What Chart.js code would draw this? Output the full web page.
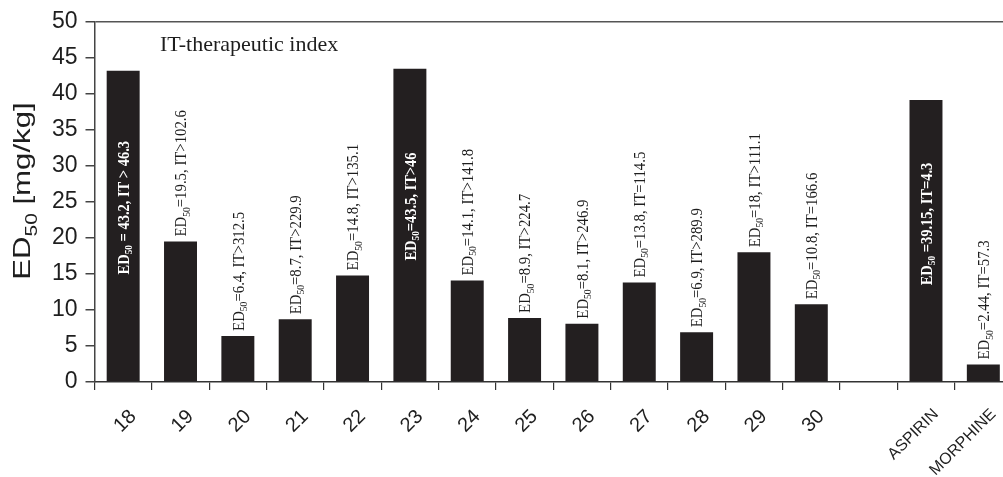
<!DOCTYPE html>
<html>
<head>
<meta charset="utf-8">
<script src="https://cdn.jsdelivr.net/npm/chart.js@4.4.1/dist/chart.umd.min.js"></script>
<style>
html,body{margin:0;padding:0;overflow:hidden;background:#fff;}
#wrap{position:relative;width:1012px;height:477px;}
</style>
</head>
<body>
<div id="wrap"><canvas id="c"></canvas></div>
<script>
// ---- data ----
const categories = ['18','19','20','21','22','23','24','25','26','27','28','29','30','','ASPIRIN','MORPHINE'];
const ed50Values = [43.2, 19.5, 6.4, 8.7, 14.8, 43.5, 14.1, 8.9, 8.1, 13.8, 6.9, 18, 10.8, null, 39.15, 2.44];
const labelTails = [
  ' = 43.2, IT > 46.3', '=19.5, IT>102.6', '=6.4, IT>312.5', '=8.7, IT>229.9',
  '=14.8, IT>135.1', '=43.5, IT>46', '=14.1, IT>141.8', '=8.9, IT>224.7',
  '=8.1, IT>246.9', '=13.8, IT=114.5', '=6.9, IT>289.9', '=18, IT>111.1',
  '=10.8, IT=166.6', '', ' =39.15, IT=4.3', '=2.44, IT=57.3'
];
const yTickValues = [0, 5, 10, 15, 20, 25, 30, 35, 40, 45, 50];
const noteText = 'IT-therapeutic index';

const SANS = '"Liberation Sans", Arial, Helvetica, sans-serif';
const SERIF = '"Liberation Serif", "Times New Roman", serif';
const INK = '#1e1e1e';

function drawSubText(ctx, x, y, parts, rotate, centered, scaleLen, color) {
  ctx.save();
  let total = 0;
  const widths = parts.map(p => { ctx.font = p.font; const w = ctx.measureText(p.text).width; total += w; return w; });
  ctx.translate(x, y);
  if (rotate) ctx.rotate(-Math.PI / 2);
  ctx.scale(scaleLen, 1);
  let cx = centered ? -total / 2 : 0;
  ctx.fillStyle = color;
  ctx.textAlign = 'left';
  ctx.textBaseline = 'alphabetic';
  parts.forEach((p, i) => { ctx.font = p.font; ctx.fillText(p.text, cx, p.dy); cx += widths[i]; });
  ctx.restore();
}

const annotate = {
  id: 'annotate',
  afterDatasetsDraw(chart) {
    const ctx = chart.ctx;
    const meta = chart.getDatasetMeta(0);
    const ys = chart.scales.y;
    meta.data.forEach((bar, i) => {
      const v = ed50Values[i];
      if (v === null || v === undefined) return;
      const inside = v > 30;
      const size = 17;
      const w = inside ? 'bold ' : '';
      const parts = [
        { text: 'ED', font: w + size + 'px ' + SERIF, dy: size * 0.34 },
        { text: '50', font: w + Math.round(size * 0.62) + 'px ' + SERIF, dy: size * 0.34 + size * 0.2 },
        { text: labelTails[i], font: w + size + 'px ' + SERIF, dy: size * 0.34 }
      ];
      if (inside) {
        drawSubText(ctx, bar.x, ys.getPixelForValue(v * 0.56), parts, true, true, 0.85, '#ffffff');
      } else {
        drawSubText(ctx, bar.x, bar.y - 5, parts, true, false, 0.87, INK);
      }
    });
    // note text
    ctx.save();
    ctx.font = '22px ' + SERIF;
    ctx.fillStyle = INK;
    ctx.textAlign = 'left';
    ctx.textBaseline = 'alphabetic';
    ctx.fillText(noteText, 160, 51);
    ctx.restore();
    // y axis title
    const ysz = 24;
    const yparts = [
      { text: 'ED', font: ysz + 'px ' + SANS, dy: 0 },
      { text: '50', font: Math.round(ysz * 0.68) + 'px ' + SANS, dy: ysz * 0.3 },
      { text: ' [mg/kg]', font: ysz + 'px ' + SANS, dy: 0 }
    ];
    drawSubText(ctx, 30, 191, yparts, true, true, 1.3, INK);
  }
};

new Chart(document.getElementById('c'), {
  type: 'bar',
  data: {
    labels: categories,
    datasets: [{
      data: ed50Values,
      backgroundColor: '#231f20',
      borderWidth: 0,
      barPercentage: 0.575,
      categoryPercentage: 1.0
    }]
  },
  options: {
    responsive: true,
    maintainAspectRatio: false,
    animation: false,
    devicePixelRatio: 1,
    layout: { padding: { top: 20, right: 0, bottom: 0, left: 0 } },
    plugins: { legend: { display: false }, tooltip: { enabled: false }, title: { display: false } },
    scales: {
      x: {
        offset: true,
        grid: { display: true, offset: true, drawOnChartArea: false, tickLength: 8, color: '#333', lineWidth: 1.2 },
        border: { display: true, color: '#333', width: 1.5 },
        ticks: {
          autoSkip: false,
          maxRotation: 45, minRotation: 45,
          padding: 15,
          labelOffset: 10,
          color: INK,
          font: (c) => ({ family: SANS, size: (c.index >= 14 ? 16 : 20) })
        },
        afterFit: (s) => { s.height = 95; }
      },
      y: {
        min: 0, max: 50,
        afterBuildTicks: (s) => { s.ticks = yTickValues.map(v => ({ value: v })); },
        ticks: { stepSize: 5, padding: 8, color: INK, font: { family: SANS, size: 23 } },
        grid: {
          drawOnChartArea: true,
          tickLength: 9,
          lineWidth: 1.5,
          color: (c) => (c.tick && c.tick.value === 50 ? '#555' : 'rgba(0,0,0,0)'),
          tickColor: '#444'
        },
        border: { display: true, color: '#444', width: 1.5 },
        afterFit: (s) => { s.width = 94.5; }
      }
    }
  },
  plugins: [annotate]
});
</script>
</body>
</html>
